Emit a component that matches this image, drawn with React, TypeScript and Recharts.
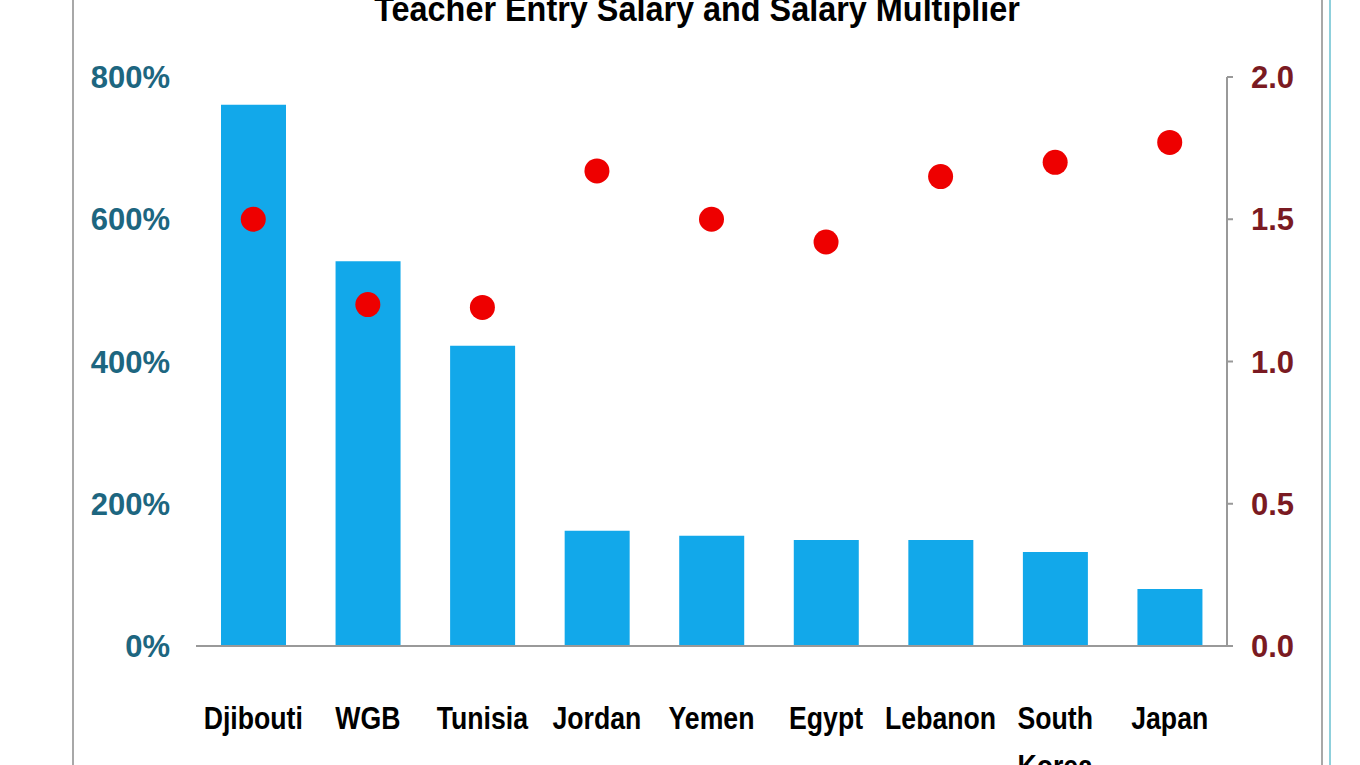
import React from 'react';
import { ComposedChart, Bar, Line, XAxis, YAxis } from 'recharts';

const categories = ['Djibouti', 'WGB', 'Tunisia', 'Jordan', 'Yemen', 'Egypt', 'Lebanon', 'South Korea', 'Japan'];
const entrySalary = [761, 541, 422, 162, 155, 149, 149, 132, 80];
const multiplier = [1.5, 1.2, 1.19, 1.67, 1.5, 1.42, 1.65, 1.7, 1.77];
const leftTicks = [0, 200, 400, 600, 800];
const rightTicks = [0, 0.5, 1.0, 1.5, 2.0];
const title = 'Teacher Entry Salary and Salary Multiplier';

const data = categories.map((c, i) => ({ name: c, salary: entrySalary[i], mult: multiplier[i] }));

const FONT = "'Liberation Sans', Arial, sans-serif";

const CatTick = (props: any) => {
  const { x, y, payload } = props;
  const words = String(payload.value).split(' ');
  return (
    <g transform={`translate(${x},${y}) scale(0.86,1)`}>
      {words.map((w: string, i: number) => (
        <text key={i} x={0} y={0} dy={75 + i * 48} textAnchor="middle" fill="#000" fontFamily={FONT} fontWeight="bold" fontSize={31}>
          {w}
        </text>
      ))}
    </g>
  );
};

export default function App() {
  return (
    <div style={{ position: 'absolute', left: 0, top: 0, width: 1360, height: 765, background: '#fff', overflow: 'hidden' }}>
      <svg width={1360} height={765} style={{ position: 'absolute', left: 0, top: 0 }}>
        <line x1={73} y1={0} x2={73} y2={765} stroke="#a8a8a8" strokeWidth={2} />
        <line x1={1322} y1={0} x2={1322} y2={765} stroke="#a8a8a8" strokeWidth={2} />
        <line x1={1330} y1={0} x2={1330} y2={765} stroke="#8fd0dc" strokeWidth={2} />
        <g transform="translate(697,21) scale(0.9,1)">
          <text x={0} y={0} textAnchor="middle" fontFamily={FONT} fontWeight="bold" fontSize={36} fill="#000">{title}</text>
        </g>
      </svg>
      <div style={{ position: 'absolute', left: 0, top: 0 }}>
        <ComposedChart width={1360} height={765} data={data} margin={{ top: 77, right: 43, bottom: 19, left: 80 }} barSize={65}>
          <XAxis dataKey="name" stroke="#999" strokeWidth={2} tickLine={false} height={100} interval={0} tick={<CatTick />} />
          <YAxis yAxisId="left" orientation="left" domain={[0, 800]} ticks={leftTicks} axisLine={false} tickLine={false} tickSize={0} tickMargin={26} width={116}
            tickFormatter={(v: number) => `${v}%`}
            tick={{ fill: '#1d6680', fontFamily: FONT, fontWeight: 'bold', fontSize: 31 }} />
          <YAxis yAxisId="right" orientation="right" domain={[0, 2]} ticks={rightTicks} stroke="#999" strokeWidth={2} tickSize={6} tickMargin={18} width={90}
            tickFormatter={(v: number) => v.toFixed(1)}
            tick={{ fill: '#7a1a22', fontFamily: FONT, fontWeight: 'bold', fontSize: 31 }} />
          <Bar yAxisId="left" dataKey="salary" fill="#12a8ea" isAnimationActive={false} />
          <Line yAxisId="right" dataKey="mult" stroke="none" isAnimationActive={false}
            dot={{ r: 12.5, fill: '#ee0000', stroke: 'none' }} activeDot={false} />
        </ComposedChart>
      </div>
    </div>
  );
}
